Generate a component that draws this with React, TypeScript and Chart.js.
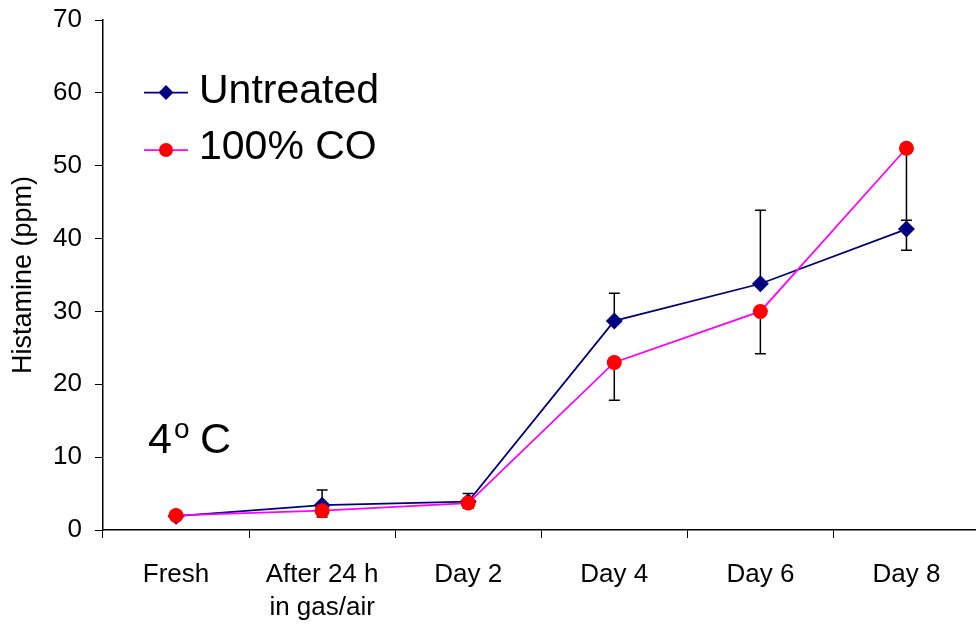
import { useEffect, useRef } from 'react';
import { Chart, registerables } from 'chart.js';

Chart.register(...registerables);

// ---- data ----
const categories: string[][] = [
  ['Fresh'],
  ['After 24 h', 'in gas/air'],
  ['Day 2'],
  ['Day 4'],
  ['Day 6'],
  ['Day 8'],
];
const untreatedValues = [1.9, 3.4, 3.9, 28.7, 33.8, 41.3];
const untreatedErrUp = [0, 2.1, 1.1, 3.8, 10.1, 1.2];
const coValues = [2.0, 2.65, 3.7, 23.0, 30.0, 52.4];
const coErrDown = [0, 0.85, 0.7, 5.2, 5.8, 14.0];
const yMin = 0;
const yMax = 70;
const yStep = 10;
const seriesLabels = ['Untreated', '100% CO'];
const yTitle = 'Histamine (ppm)';

const FONT = "'Liberation Sans', Arial, sans-serif";

const errorBarPlugin = {
  id: 'errorBars',
  beforeDatasetsDraw(chart: any) {
    const ctx = chart.ctx;
    const yScale = chart.scales.y;
    ctx.save();
    ctx.strokeStyle = '#000';
    ctx.lineWidth = 1.5;
    chart.data.datasets.forEach((ds: any, i: number) => {
      const meta = chart.getDatasetMeta(i);
      const errs: number[] = ds.errors;
      const dir: number = ds.errorDir;
      meta.data.forEach((pt: any, j: number) => {
        const e = errs[j];
        if (!e) return;
        const end = yScale.getPixelForValue(ds.data[j] + dir * e);
        ctx.beginPath();
        ctx.moveTo(pt.x, pt.y);
        ctx.lineTo(pt.x, end);
        ctx.moveTo(pt.x - 5.5, end);
        ctx.lineTo(pt.x + 5.5, end);
        ctx.stroke();
      });
    });
    ctx.restore();
  },
};

const legendPlugin = {
  id: 'customLegend',
  afterDraw(chart: any) {
    const ctx = chart.ctx;
    ctx.save();
    const rows = [92.5, 150];
    chart.data.datasets.forEach((ds: any, i: number) => {
      const y = rows[i];
      ctx.strokeStyle = ds.borderColor;
      ctx.lineWidth = ds.borderWidth;
      ctx.beginPath();
      ctx.moveTo(144, y);
      ctx.lineTo(188, y);
      ctx.stroke();
      ctx.fillStyle = ds.pointBackgroundColor;
      ctx.beginPath();
      if (ds.pointStyle === 'rectRot') {
        const r = 7.5;
        ctx.moveTo(166 - r, y);
        ctx.lineTo(166, y - r);
        ctx.lineTo(166 + r, y);
        ctx.lineTo(166, y + r);
        ctx.closePath();
      } else {
        ctx.arc(166, y, 7, 0, Math.PI * 2);
      }
      ctx.fill();
      ctx.fillStyle = '#000';
      ctx.font = `41px ${FONT}`;
      ctx.textBaseline = 'alphabetic';
      ctx.textAlign = 'left';
      ctx.fillText(ds.label, 199, y + 10 + (i === 0 ? 0.5 : -1));
    });
    // temperature annotation
    ctx.fillStyle = '#000';
    ctx.textBaseline = 'alphabetic';
    ctx.font = `43px ${FONT}`;
    ctx.fillText('4', 148, 453);
    ctx.font = `28px ${FONT}`;
    ctx.fillText('o', 174, 438);
    ctx.font = `43px ${FONT}`;
    ctx.fillText('C', 200, 453);
    ctx.restore();
  },
};

export default function App() {
  const ref = useRef<HTMLCanvasElement>(null);
  useEffect(() => {
    if (!ref.current) return;
    const chart = new Chart(ref.current, {
      type: 'line',
      data: {
        labels: categories,
        datasets: [
          {
            label: seriesLabels[0],
            data: untreatedValues,
            borderColor: '#000080',
            backgroundColor: '#000080',
            pointBackgroundColor: '#000080',
            pointBorderColor: '#000080',
            pointStyle: 'rectRot',
            pointRadius: 8.5,
            pointBorderWidth: 0,
            borderWidth: 1.75,
            tension: 0,
            order: 1,
            errors: untreatedErrUp,
            errorDir: 1,
          } as any,
          {
            label: seriesLabels[1],
            data: coValues,
            borderColor: '#FF00FF',
            backgroundColor: '#FF0000',
            pointBackgroundColor: '#FF0000',
            pointBorderColor: '#FF0000',
            pointStyle: 'circle',
            pointRadius: 7.5,
            pointBorderWidth: 0,
            borderWidth: 1.75,
            tension: 0,
            order: 0,
            errors: coErrDown,
            errorDir: -1,
          } as any,
        ],
      },
      options: {
        responsive: false,
        animation: false,
        layout: { padding: { top: 20, right: 1, left: 0, bottom: 0 } },
        plugins: { legend: { display: false }, tooltip: { enabled: false } },
        scales: {
          x: {
            type: 'category',
            offset: true,
            grid: {
              display: true,
              drawOnChartArea: false,
              offset: true,
              tickLength: 8,
              color: '#000',
              lineWidth: 1,
            },
            border: { display: true, color: '#000', width: 1.5 },
            ticks: {
              color: '#000',
              font: { family: FONT, size: 26, lineHeight: 1.29 },
              padding: 20,
              maxRotation: 0,
              autoSkip: false,
            },
            afterFit: (s: any) => {
              s.height = 94;
            },
          },
          y: {
            min: yMin,
            max: yMax,
            ticks: {
              stepSize: yStep,
              color: '#000',
              font: { family: FONT, size: 26 },
              padding: 13,
            },
            grid: { drawOnChartArea: false, tickLength: 8, color: '#000', lineWidth: 1 },
            border: { display: true, color: '#000', width: 1.5 },
            title: {
              display: true,
              text: yTitle,
              color: '#000',
              font: { family: FONT, size: 27 },
              padding: { top: 7, bottom: 0 },
            },
            afterFit: (s: any) => {
              s.width = 103;
              s.paddingTop = 0;
              s.paddingBottom = 0;
            },
          },
        },
      },
      plugins: [errorBarPlugin, legendPlugin],
    });
    return () => chart.destroy();
  }, []);
  return (
    <div
      style={{
        position: 'fixed',
        left: 0,
        top: 0,
        width: 976,
        height: 624,
        overflow: 'hidden',
        background: '#fff',
      }}
    >
      <canvas ref={ref} width={988} height={624} />
    </div>
  );
}
